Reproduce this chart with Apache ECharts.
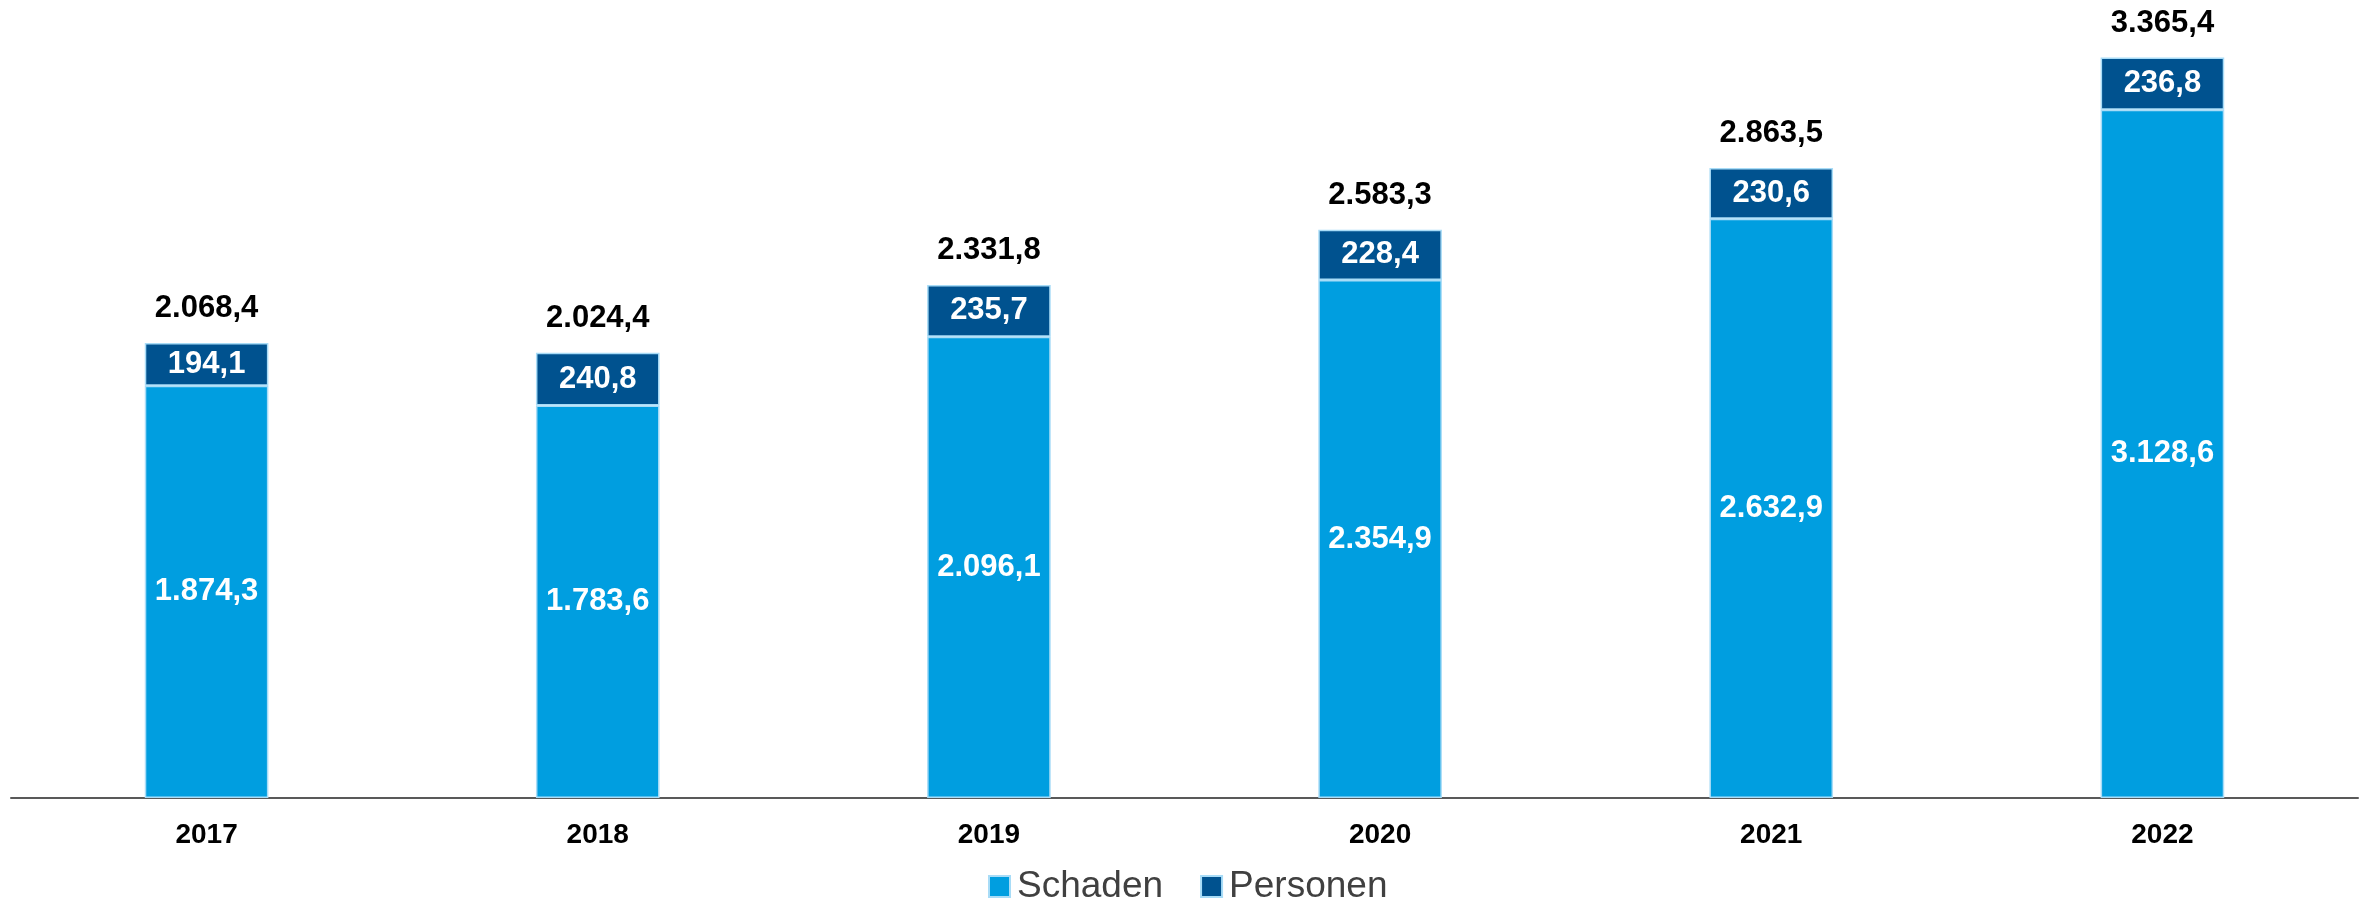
<!DOCTYPE html>
<html>
<head>
<meta charset="utf-8">
<script src="https://cdn.jsdelivr.net/npm/echarts@6/dist/echarts.min.js"></script>
<style>
  html, body { margin: 0; padding: 0; background: #fff; }
  #chart { width: 2365px; height: 910px; }
</style>
</head>
<body>
<div id="chart"></div>
<script>
// Werte
const years = ["2017", "2018", "2019", "2020", "2021", "2022"];
const schaden = [1874.3, 1783.6, 2096.1, 2354.9, 2632.9, 3128.6];
const personen = [194.1, 240.8, 235.7, 228.4, 230.6, 236.8];
const totals = [2068.4, 2024.4, 2331.8, 2583.3, 2863.5, 3365.4];

const font = "Liberation Sans, Arial, sans-serif";
const borderLight = "#a8dcf7";

// deutsches Zahlenformat: 2.068,4
function fmt(v) {
  const parts = v.toFixed(1).split(".");
  parts[0] = parts[0].replace(/\B(?=(\d{3})+(?!\d))/g, ".");
  return parts.join(",");
}

const chart = echarts.init(document.getElementById("chart"), null, { renderer: "canvas" });

chart.setOption({
  animation: false,
  grid: { left: 11, right: 7, top: 6, bottom: 112, containLabel: false },
  legend: {
    data: ["Schaden", "Personen"],
    bottom: 0,
    left: 983,
    icon: "rect",
    itemWidth: 21,
    itemHeight: 21,
    itemGap: 37,
    textStyle: { fontFamily: font, fontSize: 37, color: "#404040", padding: [0, 0, 0, 2] },
  },
  xAxis: {
    type: "category",
    data: years,
    axisTick: { show: false },
    axisLine: { lineStyle: { color: "#595959", width: 2 } },
    axisLabel: {
      fontFamily: font,
      fontSize: 28,
      fontWeight: "bold",
      color: "#000",
      margin: 23,
    },
  },
  yAxis: {
    type: "value",
    min: 0,
    max: 3600,
    show: false,
    splitLine: { show: false },
  },
  series: [
    {
      name: "Schaden",
      type: "bar",
      stack: "total",
      data: schaden,
      barWidth: "31.6%",
      itemStyle: { color: "#009ee0", borderColor: borderLight, borderWidth: 1.5 },
      label: {
        show: true,
        position: "inside",
        fontFamily: font,
        fontSize: 31,
        fontWeight: "bold",
        color: "#fff",
        formatter: (p) => fmt(p.value),
      },
    },
    {
      name: "Personen",
      type: "bar",
      stack: "total",
      data: personen,
      itemStyle: { color: "#00528f", borderColor: borderLight, borderWidth: 1.5 },
      label: {
        show: true,
        position: "inside",
        fontFamily: font,
        fontSize: 31,
        fontWeight: "bold",
        color: "#fff",
        formatter: (p) => fmt(p.value),
      },
    },
    {
      // unsichtbare Serie nur für die Summen
      name: "Summe",
      type: "bar",
      data: totals,
      barGap: "-100%",
      barWidth: "31.6%",
      z: 0,
      silent: true,
      itemStyle: { color: "transparent" },
      label: {
        show: true,
        position: "top",
        distance: 19,
        fontFamily: font,
        fontSize: 31,
        fontWeight: "bold",
        color: "#000",
        formatter: (p) => fmt(p.value),
      },
    },
  ],
});
</script>
</body>
</html>
